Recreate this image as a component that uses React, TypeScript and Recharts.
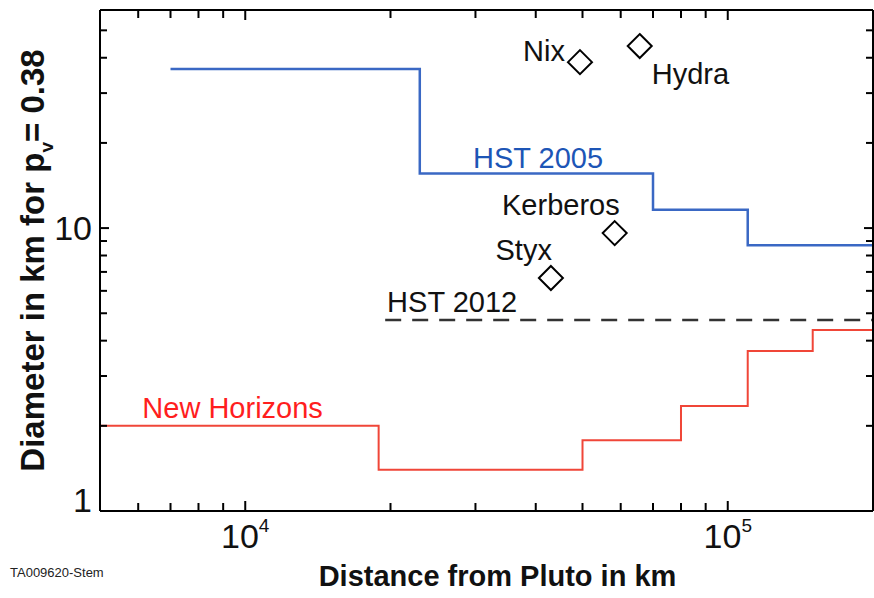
import React from 'react';
import { ComposedChart, Line, Scatter, XAxis, YAxis } from 'recharts';

// ---- data ----
const xTicks = [6000, 7000, 8000, 9000, 10000, 20000, 30000, 40000, 50000, 60000, 70000, 80000, 90000, 100000];
const xMajor = [10000, 100000];
const yTicks = [1, 2, 3, 4, 5, 6, 7, 8, 9, 10, 20, 30, 40, 50];
const yMajor = [1, 10];

const hst2005 = [
  { x: 7000, y: 36.5 },
  { x: 23000, y: 15.6 },
  { x: 70000, y: 11.6 },
  { x: 110000, y: 8.7 },
  { x: 200000, y: 8.7 },
];
const hst2012 = [
  { x: 19500, y: 4.73 },
  { x: 200000, y: 4.73 },
];
const newHorizons = [
  { x: 5000, y: 2.0 },
  { x: 18900, y: 1.4 },
  { x: 50000, y: 1.78 },
  { x: 80000, y: 2.35 },
  { x: 110000, y: 3.68 },
  { x: 150000, y: 4.36 },
  { x: 200000, y: 4.36 },
];
const moons = [
  { name: 'Nix', x: 49400, y: 38.6 },
  { name: 'Hydra', x: 65700, y: 44.0 },
  { name: 'Kerberos', x: 58300, y: 9.6 },
  { name: 'Styx', x: 43000, y: 6.66 },
];
const seriesLabels = [
  { name: 'HST 2005', x: 29650, y: 16.3 },
  { name: 'HST 2012', x: 19680, y: 5.05 },
  { name: 'New Horizons', x: 6120, y: 2.13 },
];

// ---- styles ----
const FONT = '"Liberation Sans", Arial, sans-serif';
const NARROW = '"Liberation Sans Narrow", "Arial Narrow", "Liberation Sans", sans-serif';
const BLUE = '#3a68c4';
const RED = '#f04638';
const moonLabelStyle: Record<string, { dx: number; dy: number; anchor: string }> = {
  Nix: { dx: -15, dy: -1, anchor: 'end' },
  Hydra: { dx: 12, dy: 38, anchor: 'start' },
  Kerberos: { dx: 5, dy: -18, anchor: 'end' },
  Styx: { dx: 1, dy: -18, anchor: 'end' },
};
const seriesLabelColor: Record<string, string> = {
  'HST 2005': '#1d55b6',
  'HST 2012': '#111',
  'New Horizons': '#ff1e1e',
};

const BottomTick = (props: any) => {
  const { x, y, payload } = props;
  const major = xMajor.includes(payload.value);
  const exp = Math.round(Math.log10(payload.value));
  return (
    <g>
      <line x1={x} y1={y} x2={x} y2={y - (major ? 10 : 8)} stroke="#000" strokeWidth={2} />
      {major && (
        <text x={x} y={y + 37} textAnchor="middle" fontFamily={NARROW} fontSize={34} fill="#111">
          <tspan>10</tspan>
          <tspan dy={-16} fontSize={19}>{exp}</tspan>
        </text>
      )}
    </g>
  );
};

const TopTick = (props: any) => {
  const { x, y, payload } = props;
  const major = xMajor.includes(payload.value);
  return <line x1={x} y1={y} x2={x} y2={y + (major ? 10 : 8)} stroke="#000" strokeWidth={2} />;
};

const LeftTick = (props: any) => {
  const { x, y, payload } = props;
  const major = yMajor.includes(payload.value);
  return (
    <g>
      <line x1={x} y1={y} x2={x + (major ? 9 : 7)} y2={y} stroke="#000" strokeWidth={2} />
      {major && (
        <text x={x - 8} y={payload.value === 1 ? y + 1 : y + 12} textAnchor="end" fontFamily={NARROW} fontSize={34} fill="#111">
          {payload.value}
        </text>
      )}
    </g>
  );
};

const RightTick = (props: any) => {
  const { x, y, payload } = props;
  const major = yMajor.includes(payload.value);
  return <line x1={x} y1={y} x2={x - (major ? 9 : 7)} y2={y} stroke="#000" strokeWidth={2} />;
};

const Diamond = (props: any) => {
  const { cx, cy, payload } = props;
  const s = 12;
  const st = moonLabelStyle[payload.name];
  return (
    <g>
      <polygon
        points={`${cx},${cy - s} ${cx + s},${cy} ${cx},${cy + s} ${cx - s},${cy}`}
        fill="#fff"
        stroke="#000"
        strokeWidth={2}
      />
      <text x={cx + st.dx} y={cy + st.dy} textAnchor={st.anchor} fontFamily={FONT} fontSize={29} fill="#111">
        {payload.name}
      </text>
    </g>
  );
};

const SeriesLabel = (props: any) => {
  const { cx, cy, payload } = props;
  return (
    <text x={cx} y={cy} textAnchor="start" fontFamily={FONT} fontSize={29} fill={seriesLabelColor[payload.name]}>
      {payload.name}
    </text>
  );
};

const YLabel = (props: any) => {
  const vb = props.viewBox || { x: 0, y: 10, width: 100, height: 501 };
  const cx = vb.x + 44;
  const cy = vb.y + vb.height / 2;
  return (
    <text
      x={cx}
      y={cy}
      transform={`rotate(-90 ${cx} ${cy})`}
      textAnchor="middle"
      fontFamily={FONT}
      fontWeight="bold"
      fontSize={33}
      fill="#111"
    >
      <tspan>Diameter in km for p</tspan>
      <tspan fontSize={19} dy={9}>v</tspan>
      <tspan dy={-9}>= 0.38</tspan>
    </text>
  );
};

const XLabel = (props: any) => {
  const vb = props.viewBox || { x: 100, y: 511, width: 773, height: 87 };
  return (
    <text
      x={vb.x + vb.width / 2 + 11}
      y={vb.y + 75}
      textAnchor="middle"
      fontFamily={FONT}
      fontWeight="bold"
      fontSize={29}
      fill="#111"
    >
      Distance from Pluto in km
    </text>
  );
};

export default function App() {
  return (
    <div style={{ position: 'absolute', left: 0, top: 0, width: 874, height: 598, background: '#fff' }}>
      <ComposedChart width={874} height={598} margin={{ top: 0, right: 0, bottom: 0, left: 0 }}>
        <XAxis
          dataKey="x"
          type="number"
          scale="log"
          domain={[5000, 200000]}
          ticks={xTicks}
          interval={0}
          tickSize={0}
          tickMargin={0}
          tickLine={false}
          tick={<BottomTick />}
          axisLine={{ stroke: '#000', strokeWidth: 2 }}
          height={87}
          allowDataOverflow
          label={<XLabel />}
        />
        <XAxis
          xAxisId="top"
          orientation="top"
          dataKey="x"
          type="number"
          scale="log"
          domain={[5000, 200000]}
          ticks={xTicks}
          interval={0}
          tickSize={0}
          tickMargin={0}
          tickLine={false}
          tick={<TopTick />}
          axisLine={{ stroke: '#000', strokeWidth: 2 }}
          height={10}
          allowDataOverflow
        />
        <YAxis
          dataKey="y"
          type="number"
          scale="log"
          domain={[1, 59]}
          ticks={yTicks}
          interval={0}
          tickSize={0}
          tickMargin={0}
          tickLine={false}
          tick={<LeftTick />}
          axisLine={{ stroke: '#000', strokeWidth: 2 }}
          width={100}
          allowDataOverflow
          label={<YLabel />}
        />
        <YAxis
          yAxisId="right"
          orientation="right"
          dataKey="y"
          type="number"
          scale="log"
          domain={[1, 59]}
          ticks={yTicks}
          interval={0}
          tickSize={0}
          tickMargin={0}
          tickLine={false}
          tick={<RightTick />}
          axisLine={{ stroke: '#000', strokeWidth: 2 }}
          width={1}
          allowDataOverflow
        />
        <Line data={hst2005} dataKey="y" type="stepAfter" stroke={BLUE} strokeWidth={2.5} dot={false} isAnimationActive={false} />
        <Line data={hst2012} dataKey="y" type="stepAfter" stroke="#333" strokeWidth={2.5} strokeDasharray="16 11" dot={false} isAnimationActive={false} />
        <Line data={newHorizons} dataKey="y" type="stepAfter" stroke={RED} strokeWidth={2} dot={false} isAnimationActive={false} />
        <Scatter data={moons} dataKey="y" shape={<Diamond />} isAnimationActive={false} />
        <Scatter data={seriesLabels} dataKey="y" shape={<SeriesLabel />} isAnimationActive={false} />
      </ComposedChart>
      <div
        style={{
          position: 'absolute',
          left: 10,
          top: 565,
          fontFamily: NARROW,
          fontSize: 13,
          color: '#222',
          whiteSpace: 'nowrap',
        }}
      >
        TA009620-Stem
      </div>
    </div>
  );
}
